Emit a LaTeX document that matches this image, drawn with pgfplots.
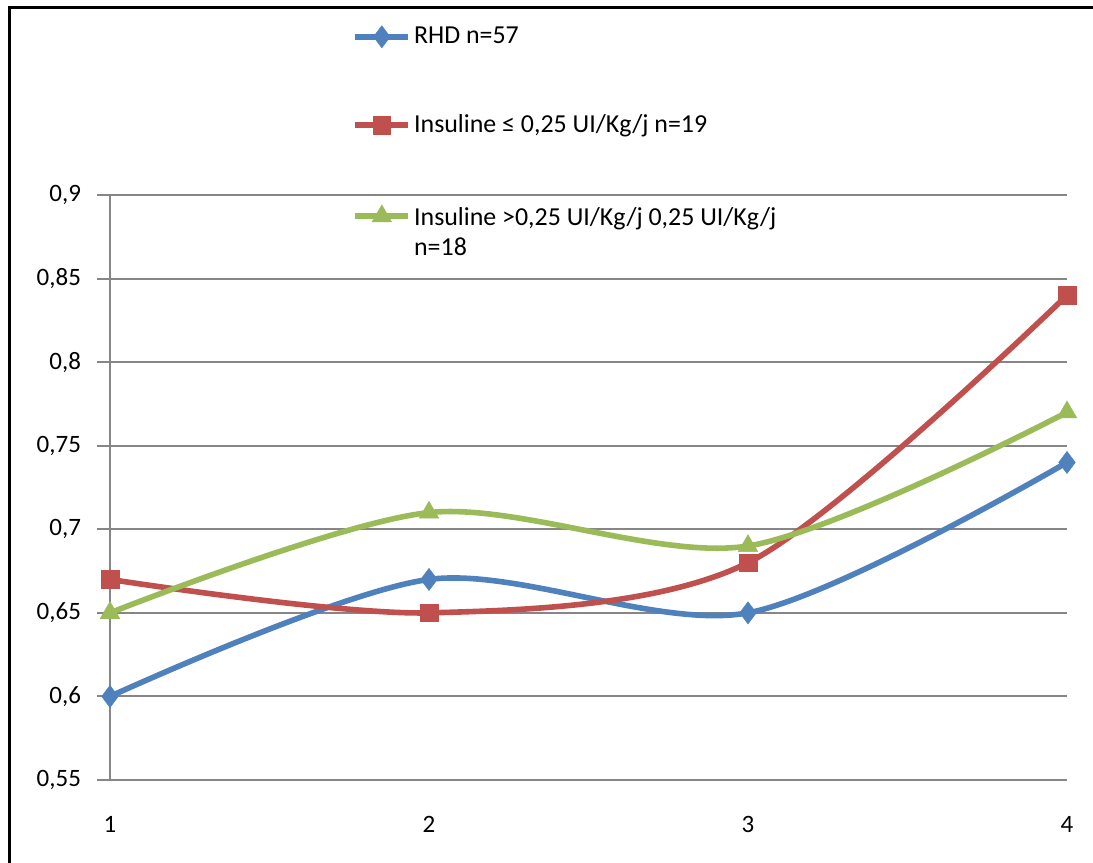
\documentclass[border=0pt]{standalone}
\usepackage{fontspec}
\setmainfont{Carlito}
\usepackage{pgfplots}
\pgfplotsset{compat=1.18}

\definecolor{rhdblue}{HTML}{4F81BD}
\definecolor{insred}{HTML}{C0504D}
\definecolor{insgreen}{HTML}{9BBB59}
\definecolor{gridgray}{HTML}{868686}

\begin{document}
\begin{tikzpicture}
\useasboundingbox (0,0) rectangle (546.5bp,431.5bp);
\draw[line width=1.5bp] (4.5bp,-2bp) -- (4.5bp,427.5bp) -- (550bp,427.5bp);
\begin{axis}[
    at={(55bp,41.5bp)}, anchor=south west,
    scale only axis,
    width=478.5bp, height=292.5bp,
    xmin=1, xmax=4, ymin=0.55, ymax=0.9,
    xtick={1,2,3,4},
    ytick={0.55,0.6,0.65,0.7,0.75,0.8,0.85,0.9},
    axis lines=left,
    axis line style={gridgray, line width=1bp, -},
    x tick style={draw=none},
    y tick style={gridgray, line width=1bp},
    tick align=outside,
    major tick length=6.5bp,
    ymajorgrids,
    grid style={gridgray, line width=1bp},
    clip=false,
    /pgf/number format/use comma,
    /pgf/number format/assume math mode=true,
    tick label style={font=\fontsize{12.5bp}{14bp}\selectfont, text=black},
    yticklabel style={xshift=-4.5bp},
    xticklabel style={yshift=-8bp},
    legend style={
        at={(axis description cs:0.253,1.293)}, anchor=north west,
        draw=none, fill=none, inner sep=0pt,
        row sep=31bp,
        font=\fontsize{13}{16}\selectfont,
        nodes={inner sep=1.5bp},
    },
    legend cell align=left,
    legend image code/.code={
        \draw[#1, mark repeat=2, mark phase=2] plot coordinates {(0bp,0bp) (13.25bp,0bp) (26.5bp,0bp)};
    },
    every axis plot/.append style={line width=2.8bp, smooth, tension=0.5},
]
\addplot[rhdblue, mark=diamond*, mark size=5.5bp, mark options={solid, line width=0.3bp}] coordinates {
    (1,0.60) (2,0.67) (3,0.65) (4,0.74)
};
\addlegendentry{RHD n=57}
\addplot[insred, mark=square*, mark size=4.4bp, mark options={solid, line width=0.3bp}] coordinates {
    (1,0.67) (2,0.65) (3,0.68) (4,0.84)
};
\addlegendentry{Insuline ≤ 0,25 UI/Kg/j n=19}
\addplot[insgreen, mark=triangle*, mark size=5.6bp, mark options={solid, line width=0.3bp}] coordinates {
    (1,0.65) (2,0.71) (3,0.69) (4,0.77)
};
\addlegendentry{\begin{tabular}[t]{@{}l@{}}Insuline >0,25 UI/Kg/j 0,25 UI/Kg/j\\[-1bp] n=18\end{tabular}}
\end{axis}
\end{tikzpicture}
\end{document}
